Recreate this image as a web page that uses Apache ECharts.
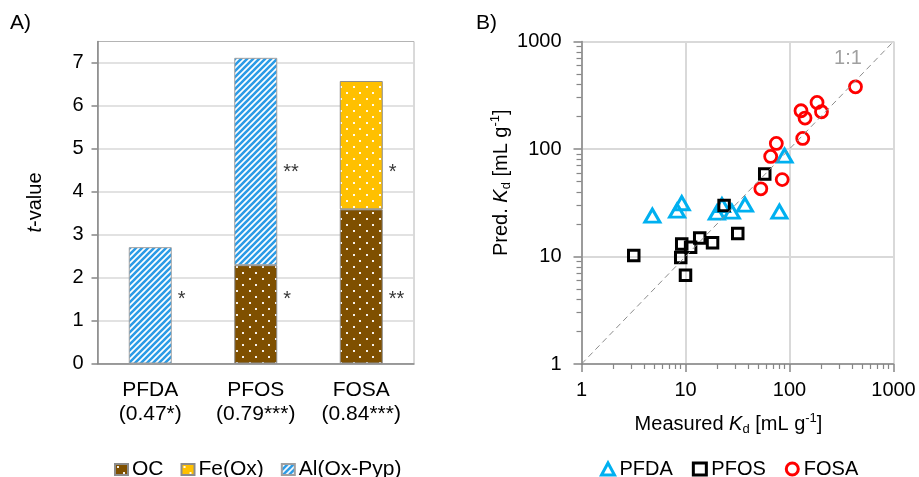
<!DOCTYPE html>
<html><head><meta charset="utf-8">
<script src="https://cdn.jsdelivr.net/npm/echarts@6/dist/echarts.min.js"></script>
<style>html,body{margin:0;padding:0;background:#fff}#c{width:919px;height:477px}</style>
</head><body><div id="c"></div>
<script>
// ---- Panel A data ----
const categories = ['PFDA', 'PFOS', 'FOSA'];
const r2Labels = ['0.47*', '0.79***', '0.84***'];
const ocValues = [null, 2.29, 3.59];
const feValues = [null, null, 2.99];
const alValues = [2.71, 4.83, null];
const starCategories = ['PFDA', 'PFOS', 'PFOS', 'FOSA', 'FOSA'];
const starValues = [1.5, 1.5, 4.45, 4.45, 1.5];
const starLabels = ['*', '*', '**', '*', '**'];
const leftYTicks = [0, 1, 2, 3, 4, 5, 6, 7];

// ---- Panel B data ----
const pfdaMeasured = [4.8, 8.3, 9.2, 20, 22.4, 27.9, 37.3, 80, 89.6];
const pfdaPredicted = [24, 26.7, 31.3, 25.6, 30, 26.2, 30.4, 26.2, 86.7];
const pfosMeasured = [3.18, 9.0, 9.2, 11.2, 13.7, 18.2, 10, 31.8, 23.5, 57.8];
const pfosPredicted = [10.2, 9.8, 13.1, 12.2, 14.9, 13.4, 6.7, 16.4, 29.8, 58.6];
const fosaMeasured = [53, 65.9, 74.7, 85.1, 134, 129, 141, 184, 203, 431];
const fosaPredicted = [42.6, 85.3, 112.7, 51.9, 125.4, 227, 194, 271, 222, 379];
const oneToOne = [1, 1000];
const logMinorTicks = [2, 3, 4, 5, 6, 7, 8, 9, 20, 30, 40, 50, 60, 70, 80, 90, 200, 300, 400, 500, 600, 700, 800, 900];

const FONT = '"Liberation Sans", Arial, sans-serif';

function dotPattern(bg) {
  const c = document.createElement('canvas');
  c.width = 13; c.height = 12;
  const g = c.getContext('2d');
  g.fillStyle = bg; g.fillRect(0, 0, 13, 12);
  g.fillStyle = 'rgba(255,255,255,0.92)';
  g.fillRect(2, 2, 2, 2); g.fillRect(8, 8, 2, 2);
  return { image: c, repeat: 'repeat' };
}
function stripePattern(col) {
  const s = 6;
  const c = document.createElement('canvas');
  c.width = s; c.height = s;
  const g = c.getContext('2d');
  g.fillStyle = '#ffffff'; g.fillRect(0, 0, s, s);
  g.strokeStyle = col; g.lineWidth = 2.6;
  g.beginPath();
  g.moveTo(-1, s + 1); g.lineTo(s + 1, -1);
  g.moveTo(-1, 1); g.lineTo(1, -1);
  g.moveTo(s - 1, s + 1); g.lineTo(s + 1, s - 1);
  g.stroke();
  return { image: c, repeat: 'repeat' };
}

const zip = (a, b) => a.map((v, i) => [v, b[i]]);
const axisGrey = '#868686';
const minorLogPositions = logMinorTicks.map(v => Math.log10(v));
const kdRich = {
  n: { fontSize: 20, fontFamily: FONT, color: '#000', lineHeight: 24 },
  i: { fontSize: 20, fontFamily: FONT, color: '#000', fontStyle: 'italic', lineHeight: 24 },
  s: { fontSize: 13, fontFamily: FONT, color: '#000', verticalAlign: 'bottom', lineHeight: 13 },
  p: { fontSize: 13, fontFamily: FONT, color: '#000', verticalAlign: 'top', lineHeight: 13 }
};
const minorAxis = (pos) => ({
  type: 'value', gridIndex: 1, min: 0, max: 3, position: pos, offset: 0, silent: true,
  axisLine: { show: false },
  axisLabel: { show: false },
  splitLine: { show: false },
  axisTick: { show: true, length: 5, lineStyle: { color: axisGrey, width: 1.2 }, customValues: minorLogPositions }
});

const chart = echarts.init(document.getElementById('c'), null, { renderer: 'canvas' });
chart.setOption({
  animation: false,
  backgroundColor: '#fff',
  textStyle: { fontFamily: FONT },
  graphic: [
    { type: 'text', left: 10, top: 13, style: { text: 'A)', fontSize: 21, fontFamily: FONT, fill: '#000' } },
    { type: 'text', left: 476, top: 13, style: { text: 'B)', fontSize: 21, fontFamily: FONT, fill: '#000' } },
    { type: 'text', x: 848, y: 58, style: { text: '1:1', fontSize: 20, fontFamily: FONT, fill: '#a0a0a0', align: 'center', verticalAlign: 'middle' } }
  ],
  legend: [
    {
      left: 109, top: 454, itemWidth: 13, itemHeight: 11, itemGap: 17, icon: 'rect',
      textStyle: { fontSize: 21, fontFamily: FONT, color: '#000', padding: [0, 0, 0, -1] },
      data: ['OC', 'Fe(Ox)', 'Al(Ox-Pyp)']
    },
    {
      left: 595, top: 454, itemWidth: 13, itemHeight: 12, itemGap: 19,
      textStyle: { fontSize: 20, fontFamily: FONT, color: '#000' },
      data: [
        { name: 'PFDA', icon: 'triangle', itemStyle: { color: 'rgba(0,0,0,0)', borderColor: '#00b0f0', borderWidth: 3 } },
        { name: 'PFOS', icon: 'rect', itemStyle: { color: 'rgba(0,0,0,0)', borderColor: '#000', borderWidth: 3 } },
        { name: 'FOSA', icon: 'circle', itemStyle: { color: 'rgba(0,0,0,0)', borderColor: '#ff0000', borderWidth: 3 } }
      ]
    }
  ],
  grid: [
    { left: 97.5, top: 41.5, width: 316.5, height: 322, show: true, borderColor: '#b4b4b4', borderWidth: 1, backgroundColor: 'rgba(0,0,0,0)' },
    { left: 581.5, top: 41.5, width: 312, height: 322.5, show: true, borderColor: '#b4b4b4', borderWidth: 1, backgroundColor: 'rgba(0,0,0,0)' }
  ],
  xAxis: [
    {
      type: 'category', gridIndex: 0, data: categories,
      axisLine: { lineStyle: { color: axisGrey, width: 1.5 } },
      axisTick: { length: 7, lineStyle: { color: axisGrey, width: 1.5 } },
      axisLabel: {
        formatter: (v) => v + '\n(' + r2Labels[categories.indexOf(v)] + ')',
        fontSize: 21, lineHeight: 24, color: '#000', margin: 15, fontFamily: FONT
      }
    },
    {
      type: 'log', logBase: 10, gridIndex: 1, min: 1, max: 1000, position: 'bottom',
      axisLine: { show: true, lineStyle: { color: axisGrey, width: 1.5 } },
      axisTick: { show: true, length: 8, lineStyle: { color: axisGrey, width: 1.5 } },
      axisLabel: { fontSize: 20, color: '#000', margin: 16, fontFamily: FONT, formatter: (v) => String(v) },
      splitLine: { show: true, lineStyle: { color: '#d9d9d9', width: 2 } },
      name: '{n|Measured }{i|K}{s|d}{n| [mL g}{p|-1}{n|]}',
      nameLocation: 'middle', nameGap: 48,
      nameTextStyle: { rich: kdRich, padding: [0, 18, 0, 0] }
    },
    minorAxis('bottom')
  ],
  yAxis: [
    {
      type: 'value', gridIndex: 0, min: 0, max: 7.5, interval: 1,
      axisLine: { show: true, lineStyle: { color: axisGrey, width: 1.5 } },
      axisTick: { show: true, length: 6, lineStyle: { color: axisGrey, width: 1.5 }, customValues: leftYTicks },
      axisLabel: { fontSize: 20, color: '#000', margin: 14, fontFamily: FONT, customValues: leftYTicks },
      splitLine: { show: true, lineStyle: { color: '#d9d9d9', width: 1.5 } },
      name: '{i|t}{n|-value}', nameLocation: 'middle', nameGap: 50, nameRotate: 90,
      nameTextStyle: { rich: kdRich }
    },
    {
      type: 'log', logBase: 10, gridIndex: 1, min: 1, max: 1000, position: 'left',
      axisLine: { show: true, lineStyle: { color: axisGrey, width: 1.5 } },
      axisTick: { show: true, length: 8, lineStyle: { color: axisGrey, width: 1.5 } },
      axisLabel: { fontSize: 20, color: '#000', margin: 20, fontFamily: FONT, formatter: (v) => String(v) },
      splitLine: { show: true, lineStyle: { color: '#d9d9d9', width: 2 } },
      name: '{n|Pred. }{i|K}{s|d}{n| [mL g}{p|-1}{n|]}',
      nameLocation: 'middle', nameGap: 67, nameRotate: 90,
      nameTextStyle: { rich: kdRich, padding: [0, 0, 0, 40] }
    },
    minorAxis('left')
  ],
  series: [
    { name: 'OC', type: 'bar', stack: 't', xAxisIndex: 0, yAxisIndex: 0, barWidth: 43, data: ocValues,
      itemStyle: { color: dotPattern('#7f5000'), borderColor: '#8c8c8c', borderWidth: 1 } },
    { name: 'Fe(Ox)', type: 'bar', stack: 't', xAxisIndex: 0, yAxisIndex: 0, barWidth: 43, data: feValues,
      itemStyle: { color: dotPattern('#ffc000'), borderColor: '#8c8c8c', borderWidth: 1 } },
    { name: 'Al(Ox-Pyp)', type: 'bar', stack: 't', xAxisIndex: 0, yAxisIndex: 0, barWidth: 43, data: alValues,
      itemStyle: { color: stripePattern('#2b9be6'), borderColor: '#a0a0a0', borderWidth: 1 } },
    { name: 'stars', type: 'scatter', xAxisIndex: 0, yAxisIndex: 0, symbolSize: 1, silent: true,
      itemStyle: { color: 'rgba(0,0,0,0)' },
      label: { show: true, position: 'right', distance: 27, fontSize: 20, color: '#000', fontFamily: FONT,
        formatter: (p) => starLabels[p.dataIndex] },
      data: starCategories.map((c, i) => [c, starValues[i]]) },
    { name: '1:1', type: 'line', xAxisIndex: 1, yAxisIndex: 1, symbol: 'none', silent: true,
      lineStyle: { color: '#8c8c8c', width: 1, type: [6, 4] },
      data: zip(oneToOne, oneToOne) },
    { name: 'PFDA', type: 'scatter', xAxisIndex: 1, yAxisIndex: 1, symbol: 'triangle', symbolSize: [15, 13],
      itemStyle: { color: 'rgba(0,0,0,0)', borderColor: '#00b0f0', borderWidth: 3, opacity: 1 },
      data: zip(pfdaMeasured, pfdaPredicted) },
    { name: 'PFOS', type: 'scatter', xAxisIndex: 1, yAxisIndex: 1, symbol: 'rect', symbolSize: 10.5,
      itemStyle: { color: 'rgba(0,0,0,0)', borderColor: '#000', borderWidth: 3, opacity: 1 },
      data: zip(pfosMeasured, pfosPredicted) },
    { name: 'FOSA', type: 'scatter', xAxisIndex: 1, yAxisIndex: 1, symbol: 'circle', symbolSize: 12,
      itemStyle: { color: 'rgba(0,0,0,0)', borderColor: '#ff0000', borderWidth: 2.8, opacity: 1 },
      data: zip(fosaMeasured, fosaPredicted) }
  ]
});
</script></body></html>
